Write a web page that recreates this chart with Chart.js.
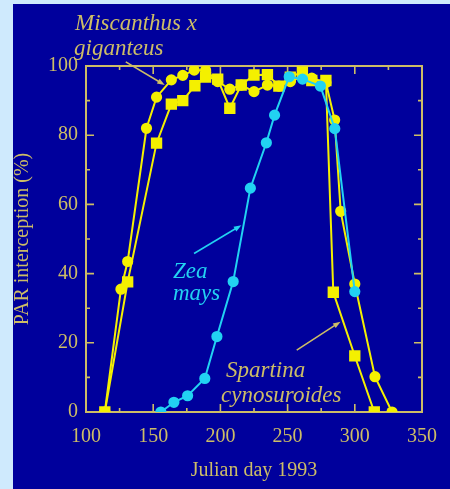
<!DOCTYPE html>
<html>
<head>
<meta charset="utf-8">
<script src="https://cdn.jsdelivr.net/npm/chart.js@4/dist/chart.umd.min.js"></script>
<style>
  html, body { margin: 0; padding: 0; background: #cfeafd; width: 450px; height: 489px; overflow: hidden; }
  #wrap { position: absolute; left: 13px; top: 4px; width: 437px; height: 485px; background: #00009c; }
  canvas { display: block; }
</style>
</head>
<body>
<div id="wrap"><canvas id="c" width="437" height="485"></canvas></div>
<script>
// Julian day and PAR interception (%) for each crop canopy
const miscanthusDays = [114, 126, 131, 145, 152.5, 163.5, 172, 180.5, 189, 198, 207, 215.5, 225, 235, 243.5, 252, 261, 268, 278.5, 285, 289.5, 300, 315, 327.7];
const miscanthusPAR  = [0, 35.5, 43.5, 82, 91, 96, 97.3, 98.8, 98.8, 95.5, 93.3, 94.5, 92.6, 94.5, 94.2, 95.5, 97, 96.5, 95.2, 84.4, 58, 37, 10.2, 0];

const spartinaDays = [114, 131, 152.5, 163.5, 172, 181, 189, 198, 207, 215.5, 225, 235, 243.5, 252, 261, 268, 278.5, 284, 300, 314.5];
const spartinaPAR  = [0, 37.6, 77.7, 89, 90, 94.3, 96.8, 96.2, 87.8, 94.5, 97.4, 97.5, 94.2, 96.8, 98.3, 95.8, 95.8, 34.6, 16.2, 0];

const zeaDays = [155.7, 165.4, 175.6, 188.4, 197.4, 209.5, 222.3, 234.2, 240.3, 251.2, 261.1, 274.4, 285.1, 300];
const zeaPAR  = [0, 2.8, 4.7, 9.7, 21.8, 37.7, 64.7, 77.8, 85.8, 96.9, 96.2, 94.2, 81.9, 34.8];

const xTicks = [100, 150, 200, 250, 300, 350];
const yTicks = [0, 20, 40, 60, 80, 100];

const AXIS = '#cdbd66';
const YELLOW = '#f4f000';
const CYAN = '#22d2f2';
const SERIF = '"Liberation Serif", "Times New Roman", serif';

const pts = (xs, ys) => xs.map((x, i) => ({ x, y: ys[i] }));

// frame with inward major/minor ticks on all four sides
const framePlugin = {
  id: 'frame',
  beforeDatasetsDraw(chart) {
    const { ctx, chartArea: a, scales: { x, y } } = chart;
    ctx.save();
    ctx.strokeStyle = AXIS;
    ctx.lineWidth = 2;
    ctx.strokeRect(a.left, a.top, a.right - a.left, a.bottom - a.top);
    ctx.lineWidth = 1.6;
    ctx.beginPath();
    for (let v = 100; v <= 350; v += 25) {
      const px = x.getPixelForValue(v);
      const len = v % 50 === 0 ? 8 : 4;
      ctx.moveTo(px, a.bottom); ctx.lineTo(px, a.bottom - len);
      ctx.moveTo(px, a.top); ctx.lineTo(px, a.top + len);
    }
    for (let v = 0; v <= 100; v += 10) {
      const py = y.getPixelForValue(v);
      const len = v % 20 === 0 ? 8 : 4;
      ctx.moveTo(a.left, py); ctx.lineTo(a.left + len, py);
      ctx.moveTo(a.right, py); ctx.lineTo(a.right - len, py);
    }
    ctx.stroke();
    ctx.restore();
  }
};

// species labels with pointer arrows (arrow ends in data units)
const labels = [
  { lines: ['Miscanthus x', 'giganteus'], color: AXIS, at: [[62, 26], [61, 51]], from: [129.6, 101.2], to: [158.6, 94.5] },
  { lines: ['Zea', 'mays'], color: CYAN, at: [[160, 274], [160, 296]], from: [180.4, 45.8], to: [215.6, 54.0] },
  { lines: ['Spartina', 'cynosuroides'], color: AXIS, at: [[213, 373], [208, 398]], from: [256.8, 17.9], to: [289.4, 26.1] }
];

const notePlugin = {
  id: 'notes',
  afterDraw(chart) {
    const { ctx, scales: { x, y } } = chart;
    ctx.save();
    ctx.font = 'italic 23px ' + SERIF;
    ctx.textBaseline = 'alphabetic';
    ctx.textAlign = 'left';
    labels.forEach(l => {
      ctx.fillStyle = l.color;
      l.lines.forEach((t, i) => ctx.fillText(t, l.at[i][0], l.at[i][1]));
      const x0 = x.getPixelForValue(l.from[0]), y0 = y.getPixelForValue(l.from[1]);
      const x1 = x.getPixelForValue(l.to[0]), y1 = y.getPixelForValue(l.to[1]);
      const ang = Math.atan2(y1 - y0, x1 - x0);
      ctx.strokeStyle = l.color;
      ctx.lineWidth = 1.6;
      ctx.beginPath(); ctx.moveTo(x0, y0); ctx.lineTo(x1 - 5 * Math.cos(ang), y1 - 5 * Math.sin(ang)); ctx.stroke();
      ctx.beginPath();
      ctx.moveTo(x1, y1);
      ctx.lineTo(x1 - 8 * Math.cos(ang - 0.35), y1 - 8 * Math.sin(ang - 0.35));
      ctx.lineTo(x1 - 8 * Math.cos(ang + 0.35), y1 - 8 * Math.sin(ang + 0.35));
      ctx.closePath();
      ctx.fillStyle = l.color;
      ctx.fill();
    });
    ctx.restore();
  }
};

new Chart(document.getElementById('c'), {
  type: 'scatter',
  data: {
    datasets: [
      { label: 'Miscanthus x giganteus', data: pts(miscanthusDays, miscanthusPAR), showLine: true,
        borderColor: YELLOW, backgroundColor: YELLOW, borderWidth: 2, pointStyle: 'circle', pointRadius: 4.6, order: 3 },
      { label: 'Spartina cynosuroides', data: pts(spartinaDays, spartinaPAR), showLine: true,
        borderColor: YELLOW, backgroundColor: YELLOW, borderWidth: 2, pointStyle: 'rect', pointRadius: 6.6, order: 2 },
      { label: 'Zea mays', data: pts(zeaDays, zeaPAR), showLine: true,
        borderColor: CYAN, backgroundColor: CYAN, borderWidth: 2, pointStyle: 'circle', pointRadius: 4.6, order: 1 }
    ]
  },
  options: {
    responsive: false,
    animation: false,
    devicePixelRatio: 1,
    layout: { padding: { left: 0, right: 20, top: 62, bottom: 0 } },
    plugins: { legend: { display: false }, tooltip: { enabled: false } },
    elements: { line: { tension: 0 } },
    scales: {
      x: {
        type: 'linear', min: 100, max: 350,
        afterBuildTicks: s => { s.ticks = xTicks.map(v => ({ value: v })); },
        afterFit: s => { s.height = 77; },
        grid: { display: false, drawTicks: false },
        border: { display: false },
        ticks: { color: AXIS, font: { family: SERIF, size: 20 }, padding: 13, maxRotation: 0 },
        title: { display: true, text: 'Julian day 1993', color: AXIS, font: { family: SERIF, size: 20 }, padding: { top: 0, bottom: 6 } }
      },
      y: {
        type: 'linear', min: 0, max: 100,
        afterBuildTicks: s => { s.ticks = yTicks.map(v => ({ value: v })); },
        afterFit: s => { s.width = 73; },
        grid: { display: false, drawTicks: false },
        border: { display: false },
        ticks: { color: AXIS, font: { family: SERIF, size: 20 }, padding: 8 },
        title: { display: true, text: 'PAR interception (%)', color: AXIS, font: { family: SERIF, size: 20 }, padding: { top: -2, bottom: 0 } }
      }
    }
  },
  plugins: [framePlugin, notePlugin]
});
</script>
</body>
</html>
